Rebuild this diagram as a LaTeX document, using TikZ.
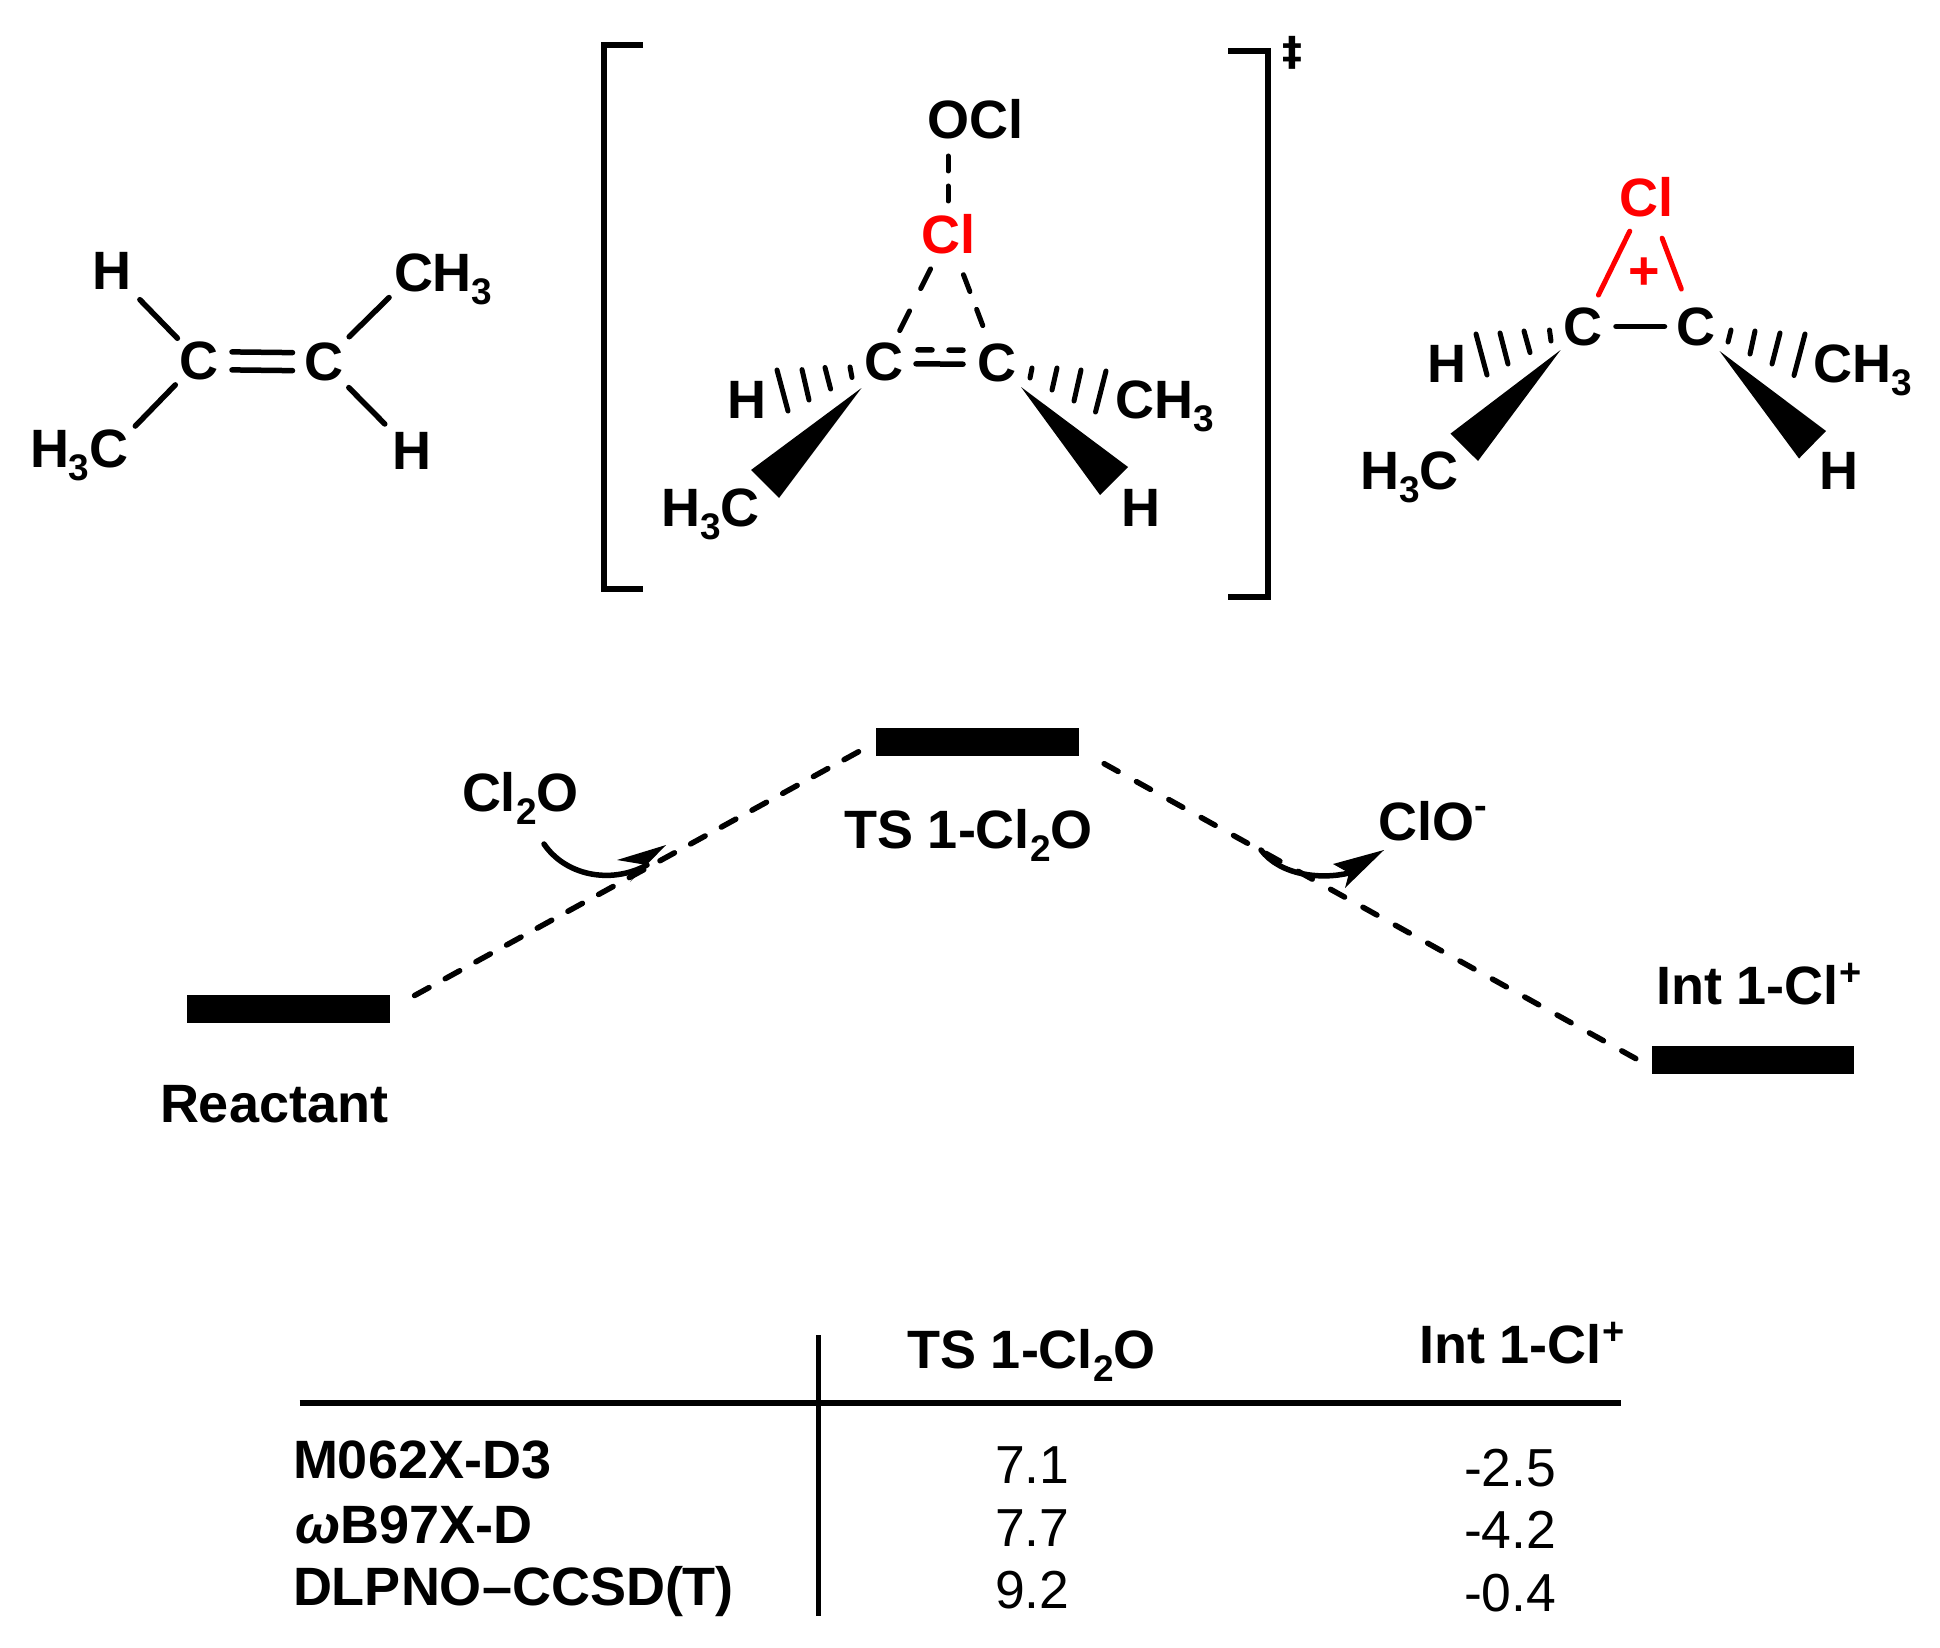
\documentclass[tikz,border=0pt]{standalone}
\usepackage{fontspec}
\setmainfont{Liberation Sans}
\newfontfamily\djv{DejaVu Sans}
\newcommand{\lowr}[1]{\raisebox{-13pt}{\fontsize{37}{37}\selectfont #1}}
\newcommand{\hiplus}{\raisebox{19pt}{\fontsize{38}{38}\selectfont +}}
\newcommand{\himinus}{\raisebox{22pt}{\fontsize{38}{38}\selectfont -}}
\definecolor{clred}{RGB}{255,0,0}
\tikzset{
  lab/.style={inner sep=0pt,outer sep=0pt,font=\fontsize{54}{60}\selectfont\bfseries},
  atomc/.style={lab,anchor=center},
  labw/.style={lab,anchor=base west},
  val/.style={inner sep=0pt,outer sep=0pt,font=\fontsize{53.5}{60}\selectfont,anchor=base west},
  bond/.style={draw=black,line width=5.5pt,line cap=round},
  dbond/.style={draw=black,line width=5pt,line cap=round},
  redbond/.style={draw=clred,line width=5pt,line cap=round},
  hashb/.style={draw=black,line width=5pt,line cap=round},
  brack/.style={draw=black,line width=6pt,line cap=butt,line join=miter},
  level/.style={fill=black,inner sep=0pt,outer sep=0pt,minimum height=27.5pt},
  elink/.style={draw=black,line width=5.5pt,line cap=round},
  rule/.style={draw=black,line cap=butt},
  sweep/.style={draw=black,line width=5.5pt,line cap=round},
}
\begin{document}
\begin{tikzpicture}[x=1pt,y=-1pt]
\useasboundingbox (0,0) rectangle (1940,1648);
% --- reactant molecule
\node[atomc] (C1) at (199,360.5) {C};
\node[atomc] (C2) at (323.5,362) {C};
\node[atomc] (H1) at (112,271) {H};
\node[atomc] (H2) at (411.5,451) {H};
\node[labw] (CH3a) at (394,291.5) {CH\lowr{3}};
\node[labw] (H3Ca) at (30,467.5) {H\lowr{3}C};
\coordinate (CH3aC) at (414,273);
\coordinate (H3CaC) at (113,449);
\draw[bond,shorten <=31pt,shorten >=40pt] (C1.center) -- (H1.center);
\draw[bond,shorten <=36pt,shorten >=35pt] (C2.center) -- (CH3aC);
\draw[bond,shorten <=34pt,shorten >=32pt] (C1.center) -- (H3CaC);
\draw[bond,shorten <=36pt,shorten >=38pt] (C2.center) -- (H2.center);
\draw[bond,shorten <=33pt,shorten >=31pt] ([yshift=9pt]C1.center) -- ([yshift=9pt]C2.center);
\draw[bond,shorten <=33pt,shorten >=31pt] ([yshift=-9pt]C1.center) -- ([yshift=-9pt]C2.center);
% --- brackets
\coordinate (BLa) at (643,45);
\coordinate (BLb) at (604,45);
\coordinate (BLc) at (604,589);
\coordinate (BLd) at (643,589);
\draw[brack] (BLa) -- (BLb) -- (BLc) -- (BLd);
\coordinate (BRa) at (1228,51);
\coordinate (BRb) at (1268,51);
\coordinate (BRc) at (1268,597);
\coordinate (BRd) at (1228,597);
\draw[brack] (BRa) -- (BRb) -- (BRc) -- (BRd);
\node[inner sep=0pt,font=\fontsize{40}{40}\selectfont\djv\bfseries] (ddag) at (1292.5,53) {‡};
% --- transition state molecule
\node[labw] (OCl) at (927,138.5) {OCl};
\coordinate (OClO) at (948,120);
\node[atomc,text=clred] (ClT) at (948,234) {Cl};
\node[atomc] (C3) at (884,362) {C};
\node[atomc] (C4) at (997,363) {C};
\node[atomc] (H3) at (747,400) {H};
\node[atomc] (H4) at (1140.5,508) {H};
\node[labw] (H3Cb) at (661,526.5) {H\lowr{3}C};
\node[labw] (CH3b) at (1115,418.5) {CH\lowr{3}};
\draw[dbond,dash pattern=on 15pt off 15pt,shorten <=36pt,shorten >=32pt] (OClO) -- (ClT.center);
\draw[dbond,dash pattern=on 22pt off 25pt,shorten <=39pt,shorten >=35pt] (ClT.center) -- (C3.center);
\draw[dbond,dash pattern=on 18pt off 19pt,shorten <=43.6pt,shorten >=40pt] (ClT.center) -- (C4.center);
\draw[bond,shorten <=32pt,shorten >=34pt] ([yshift=-1.5pt]C3.center) -- ([yshift=-1.5pt]C4.center);
\draw[bond,dash pattern=on 14pt off 17pt,shorten <=34pt,shorten >=34pt] ([yshift=12.5pt]C3.center) -- ([yshift=12.5pt]C4.center);
\draw[hashb] (850,367) -- (852,377.5);
\draw[hashb] (825,367.5) -- (830.6,389);
\draw[hashb] (802,369.6) -- (809,400);
\draw[hashb] (777,370) -- (788,411);
\fill (861.5,388) -- (751,470) -- (779,498) -- cycle;
\draw[hashb] (1032,368) -- (1030,378);
\draw[hashb] (1057,368) -- (1052,390);
\draw[hashb] (1081,370) -- (1074,401);
\draw[hashb] (1106,371) -- (1095.5,412);
\fill (1021,387) -- (1128,467) -- (1100,495) -- cycle;
% --- chloronium
\node[atomc,text=clred] (ClP) at (1646.5,197) {Cl};
\node[atomc,text=clred] (plus) at (1644,274) {+};
\node[atomc] (C5) at (1583,326.5) {C};
\node[atomc] (C6) at (1695.5,326.5) {C};
\node[atomc] (H5) at (1446.5,364) {H};
\node[atomc] (H6) at (1838.5,471) {H};
\node[labw] (H3Cc) at (1360,489.5) {H\lowr{3}C};
\node[labw] (CH3c) at (1813,382.5) {CH\lowr{3}};
\draw[redbond,shorten <=38pt,shorten >=35pt] (ClP.center) -- (C5.center);
\draw[redbond,shorten <=44pt,shorten >=40pt] (ClP.center) -- (C6.center);
\draw[bond,shorten <=33pt,shorten >=31pt] (C5.center) -- (C6.center);
\draw[hashb] (1549.5,330) -- (1551,341);
\draw[hashb] (1524,331) -- (1530,352.6);
\draw[hashb] (1500,333) -- (1508,364);
\draw[hashb] (1476,334) -- (1487,375);
\fill (1560.6,350) -- (1450.5,433.6) -- (1478,461) -- cycle;
\draw[hashb] (1731,330) -- (1728,342);
\draw[hashb] (1755,331) -- (1750,354);
\draw[hashb] (1780,333) -- (1772,364);
\draw[hashb] (1805,334) -- (1794,375.5);
\fill (1719.5,351) -- (1826,431) -- (1799,458.5) -- cycle;
% --- energy profile
\node[level,minimum width=203pt] (Re) at (288.5,1009) {};
\node[level,minimum width=202.5pt] (TS) at (977.5,742) {};
\node[level,minimum width=202pt] (In) at (1753,1060) {};
\draw[elink,dash pattern=on 16.5pt off 18.5pt,shorten <=28pt,shorten >=17pt] (Re.east) -- (TS.west);
\draw[elink,dash pattern=on 16pt off 21pt,shorten <=29pt,shorten >=17pt] ([yshift=-7.6pt]TS.east) -- ([yshift=-7.6pt]In.west);
\node[labw] (ReL) at (160,1122) {Reactant};
\node[labw] (TSL) at (844,848) {TS 1-Cl\lowr{2}O};
\node[labw] (InL) at (1656,1004) {Int 1-Cl\hiplus};
\node[labw] (Cl2O) at (462,811) {Cl\lowr{2}O};
\node[labw] (ClOm) at (1378,840) {ClO\himinus};
\coordinate (a1s) at (544,844);
\coordinate (a1n) at (647,865);
\coordinate (a1t) at (666,845);
\coordinate (a1b) at (617,860);
\coordinate (a1c) at (630,882);
\draw[sweep] (a1s) .. controls (565,875) and (610,885) .. (a1n);
\fill (a1t) -- (a1b) -- (a1n) -- (a1c) -- cycle;
\coordinate (a2s) at (1261,850);
\coordinate (a2n) at (1349,873);
\coordinate (a2t) at (1384,850);
\coordinate (a2b) at (1333,864);
\coordinate (a2c) at (1345,888);
\draw[sweep] (a2s) .. controls (1280,875) and (1320,880) .. (a2n);
\fill (a2t) -- (a2b) -- (a2n) -- (a2c) -- cycle;
% --- table
\coordinate (Va) at (818,1335);
\coordinate (Vb) at (818,1616);
\coordinate (Ha) at (299.5,1403);
\coordinate (Hb) at (1621,1403);
\draw[rule,line width=5pt] (Va) -- (Vb);
\draw[rule,line width=6.5pt] (Ha) -- (Hb);
\node[labw] (T1) at (907,1368) {TS 1-Cl\lowr{2}O};
\node[labw] (T2) at (1419,1363) {Int 1-Cl\hiplus};
\node[labw] (R1) at (293,1478) {M062X-D3};
\node[labw] (R2) at (295,1543) {\textit{ω}B97X-D};
\node[labw] (R3) at (293,1605) {DLPNO–CCSD(T)};
\node[val] (V11) at (995,1483) {7.1};
\node[val] (V12) at (995,1546) {7.7};
\node[val] (V13) at (995,1608) {9.2};
\node[val] (V21) at (1464,1486) {-2.5};
\node[val] (V22) at (1464,1548) {-4.2};
\node[val] (V23) at (1464,1611) {-0.4};
\end{tikzpicture}
\end{document}
